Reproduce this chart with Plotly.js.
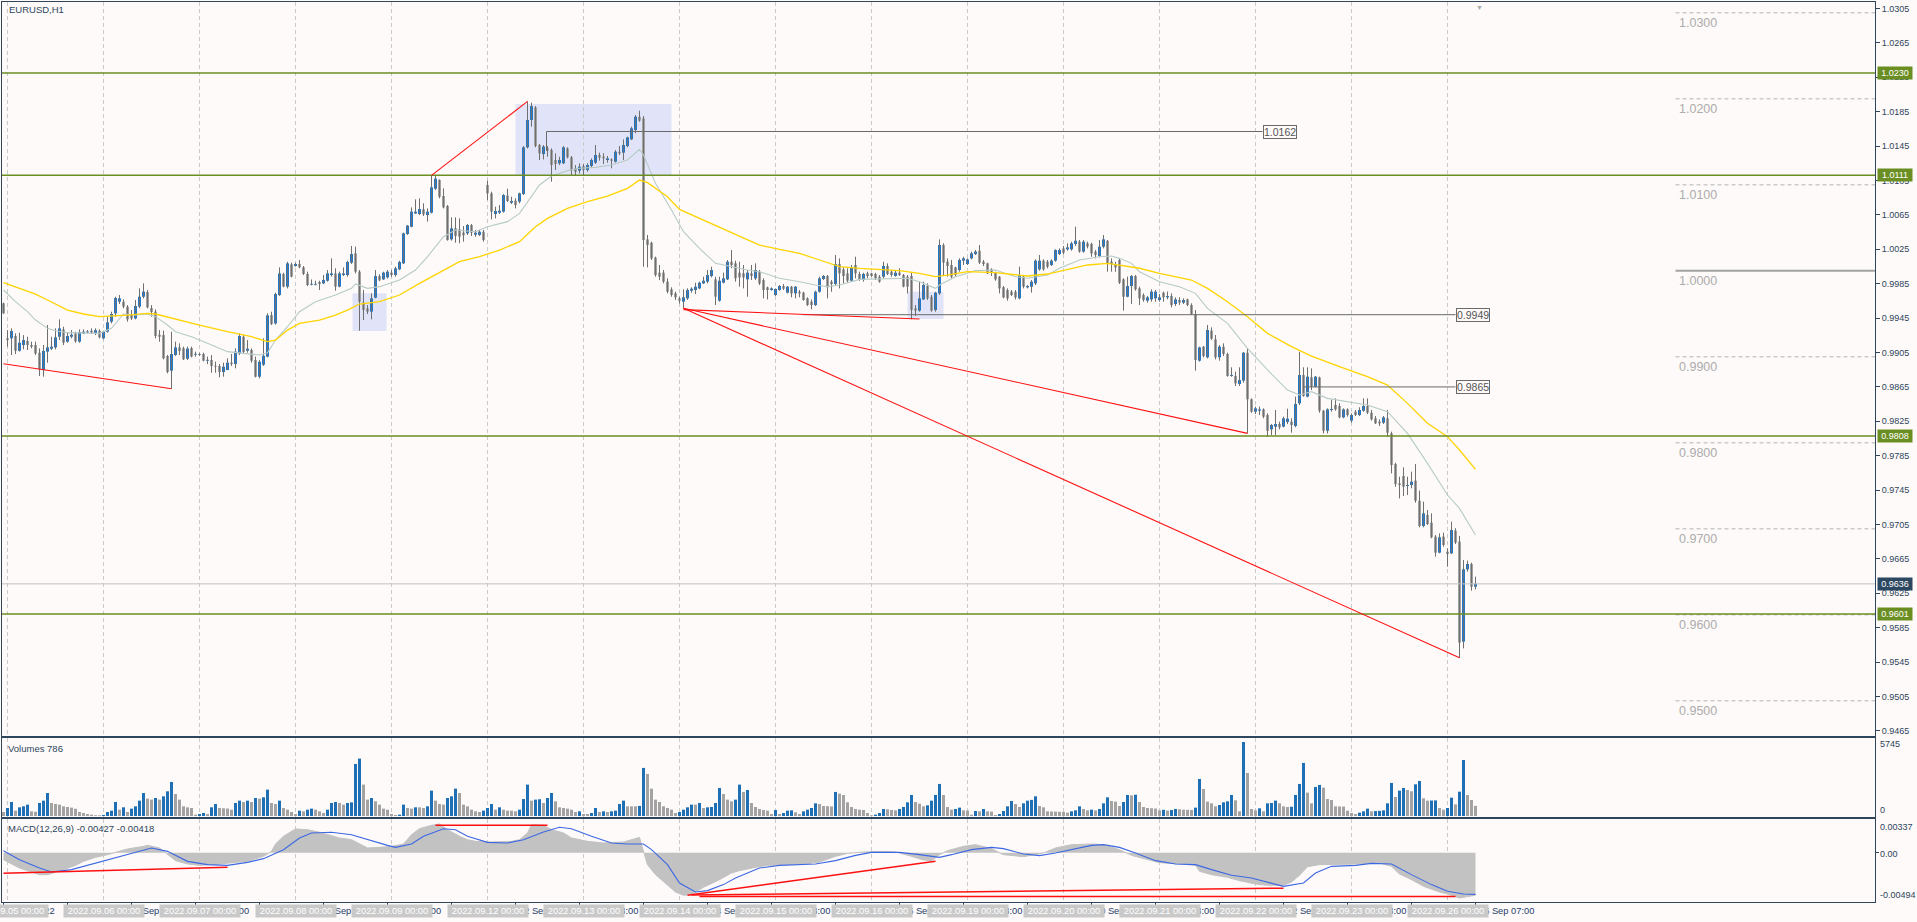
<!DOCTYPE html>
<html><head><meta charset="utf-8">
<script src="https://cdn.plot.ly/plotly-3.0.1.min.js"></script>
<style>html,body{margin:0;padding:0;background:#fdfaf9;}#chart{width:1917px;height:922px;}</style>
</head><body><div id="chart"></div>
<script>
// ---------- DATA (EURUSD H1, bar 0 = 2022.09.02 23:00) ----------
const openP = [
0.99622,0.99215,0.99215,0.99242,0.99071,0.99137,0.99184,0.99137,0.99137,0.99048,
0.98846,0.9906,0.99095,0.9911,0.99234,0.99319,0.99176,0.99234,0.99273,0.99176,
0.99273,0.99285,0.99304,0.99273,0.99304,0.99215,0.99292,0.99409,0.99506,0.99641,
0.99641,0.99583,0.99486,0.99447,0.99583,0.99699,0.99754,0.99567,0.99525,0.99257,
0.99253,0.99009,0.98839,0.99021,0.9911,0.99099,0.98978,0.99102,0.99025,0.99033,
0.99033,0.98955,0.98963,0.98893,0.98893,0.98823,0.98846,0.98932,0.98916,0.9904,
0.99234,0.99071,0.99079,0.98963,0.98769,0.98909,0.99002,0.99486,0.99389,0.99719,
0.99963,0.99816,1.00075,1.00056,1.0008,1.00041,0.99963,0.99839,0.99839,0.9987,
0.99854,0.99885,0.99951,0.9997,0.99816,0.99951,0.99951,1.00095,1.00203,0.9999,
0.9963,0.99564,0.99525,0.99688,0.9994,0.99901,0.99924,0.99979,0.99951,1.00017,
1.00087,1.00428,1.00513,1.00668,1.00661,1.00715,1.00649,1.00676,1.00955,1.01056,
1.0087,1.00754,1.00366,1.00494,1.00482,1.00444,1.00436,1.00533,1.0042,1.00417,
1.00455,1.00998,1.00901,1.00661,1.00676,1.00688,1.00874,1.00792,1.00816,1.00804,
1.00893,1.01436,1.01754,1.01901,1.01463,1.01358,1.01424,1.01405,1.01289,1.0125,
1.0125,1.01424,1.0132,1.01192,1.01165,1.01219,1.01172,1.01219,1.01258,1.01347,
1.01327,1.01289,1.01296,1.01269,1.01385,1.01374,1.01451,1.01529,1.01637,1.01792,
1.01773,1.00366,1.00327,1.00153,0.99979,0.99979,0.99874,0.99785,0.99738,0.9968,
0.99641,0.9968,0.99769,0.99777,0.99796,0.99854,0.99874,0.9994,0.99901,0.99653,
0.99862,0.99901,1.00106,1.00087,0.99979,0.99971,0.99901,0.99971,0.99913,0.9999,
0.99893,0.99808,0.99777,0.99719,0.99777,0.99823,0.99746,0.99816,0.99738,0.99757,
0.99746,0.9968,0.99641,0.99602,0.99757,0.99905,0.9994,0.99874,0.99847,1.00079,
1.00017,0.99971,0.99885,1.00068,0.99963,0.99893,0.99971,0.99971,0.99963,0.99932,
0.99932,1.00056,0.9999,0.9994,0.99978,0.99951,0.99932,0.9994,0.99564,0.99537,
0.99668,0.99823,0.99699,0.99544,0.99738,1.003,1.00106,1.00068,1.0004,1.0001,
1.00118,1.00079,1.00145,1.00195,1.00234,1.00106,1.00087,1.00017,0.99978,0.99932,
0.99808,0.99777,0.99757,0.99757,0.9968,0.99932,0.99808,0.99816,0.99854,1.00017,
1.00118,1.00106,1.00068,1.00118,1.00195,1.00261,1.0025,1.0025,1.00312,1.00339,
1.00223,1.0032,1.00312,1.00223,1.00172,1.00281,1.0035,1.00106,1.00079,1.00126,
0.99901,0.99699,0.99823,0.9994,0.99796,0.99719,0.99653,0.99668,0.9968,0.99661,
0.99746,0.99692,0.99707,0.99614,0.99661,0.9963,0.99668,0.99602,0.99498,0.98955,
0.99118,0.98994,0.99304,0.99203,0.98994,0.99118,0.99033,0.98777,0.98777,0.98684,
0.98723,0.99048,0.98506,0.98362,0.98374,0.98389,0.98323,0.98157,0.98188,0.98219,
0.98188,0.98242,0.98246,0.98196,0.98459,0.98789,0.98537,0.98761,0.98653,0.98761,
0.98374,0.98141,0.98382,0.9844,0.98428,0.98296,0.98389,0.98258,0.98362,0.98323,
0.98374,0.98428,0.9835,0.98285,0.98246,0.98234,0.98285,0.9811,0.97754,0.97529,
0.97614,0.97498,0.9751,0.9756,0.97327,0.97033,0.97161,0.97072,0.96909,0.96723,
0.96909,0.96734,0.96715,0.96979,0.96851,0.95688,0.96529,0.96591,0.96327];
const highP = [
0.9963,0.99311,0.99331,0.99273,0.99281,0.99253,0.99234,0.99176,0.99176,0.99099,
0.99137,0.9937,0.99234,0.99331,0.99436,0.9935,0.99281,0.99311,0.99292,0.99319,
0.99319,0.99311,0.99331,0.99331,0.99319,0.99304,0.99467,0.99525,0.99699,0.99719,
0.99668,0.99602,0.99544,0.99661,0.99796,0.99854,0.99777,0.99602,0.99552,0.99311,
0.99304,0.99021,0.99292,0.99176,0.99157,0.99118,0.99118,0.99118,0.9906,0.99048,
0.99048,0.99002,0.99021,0.98943,0.98916,0.98932,0.98982,0.99033,0.99099,0.99273,
0.99253,0.99195,0.99099,0.99002,0.98963,0.99215,0.99506,0.99525,0.99746,1.0004,
0.99978,1.00106,1.00095,1.00095,1.00126,1.00056,0.9999,0.999,0.99885,0.99885,
0.99951,1.00009,1.00145,1.00029,0.9999,1.0004,1.00118,1.00289,1.00281,1.00009,
0.99777,0.99602,0.99738,1.00009,0.9996,0.9999,1.0001,1.0001,1.00048,1.00118,
1.00444,1.00533,1.00738,1.00831,1.00843,1.00785,1.00726,1.01103,1.01114,1.01064,
1.00959,1.00765,1.00622,1.00622,1.0061,1.00521,1.00545,1.00545,1.00475,1.00475,
1.00475,1.01048,1.0092,1.00746,1.00765,1.00893,1.00955,1.00862,1.00843,1.00909,
1.01451,1.01967,1.01955,1.01916,1.01475,1.01463,1.01451,1.01424,1.01366,1.01327,
1.01451,1.01436,1.01335,1.0123,1.0125,1.01242,1.0125,1.01308,1.01463,1.01374,
1.01366,1.01335,1.01308,1.01405,1.01451,1.01529,1.0156,1.01676,1.01812,1.01862,
1.018,1.00417,1.00339,1.00165,1.00068,1.0001,0.99913,0.99808,0.99757,0.99699,
0.99785,0.99796,0.99808,0.99862,0.99874,0.99932,1.00009,1.00048,0.9993,0.99932,
0.99979,1.00126,1.00242,1.00118,1.00106,1.00068,1.0001,1.00068,1.00087,1.0001,
0.99913,0.99816,0.99808,0.99796,0.99835,0.99847,0.99823,0.99823,0.99823,0.99777,
0.99757,0.99692,0.99668,0.99769,0.99932,0.99951,0.99951,0.99893,1.00184,1.00145,
1.0004,1.00029,1.00068,1.00164,0.9999,0.99978,0.9999,0.99978,0.99978,0.99951,
1.00106,1.00087,1.0001,1.00002,1.00029,0.99963,0.99951,0.99978,0.99602,0.99874,
0.99874,0.99854,0.99719,0.99757,1.00366,1.0032,1.00145,1.00126,1.00048,1.00145,
1.00164,1.00145,1.00223,1.00242,1.003,1.00126,1.00095,1.00029,0.9999,0.9994,
0.99823,0.99796,0.99777,0.99777,1.00048,0.99951,0.99835,0.99893,1.00133,1.00184,
1.00133,1.00126,1.00133,1.0025,1.00261,1.00289,1.0032,1.00339,1.00513,1.00358,
1.00358,1.00339,1.00327,1.00242,1.00358,1.00416,1.00358,1.00145,1.00106,1.00145,
0.99913,0.99932,0.99951,0.99951,0.99816,0.99738,0.99707,0.99785,0.99777,0.9973,
0.99758,0.99758,0.99738,0.99692,0.99692,0.9968,0.99676,0.99622,0.99544,0.99118,
0.99126,0.9937,0.99343,0.99254,0.99137,0.99157,0.99048,0.98878,0.98827,0.98878,
0.99056,0.99099,0.98517,0.98421,0.98421,0.98401,0.98343,0.98219,0.98382,0.98246,
0.98304,0.98397,0.98285,0.98537,0.9906,0.98878,0.98878,0.98866,0.98777,0.98769,
0.98382,0.98401,0.98498,0.98517,0.98459,0.98401,0.98401,0.98343,0.98382,0.98413,
0.98517,0.98517,0.98382,0.98312,0.98273,0.98312,0.98382,0.9813,0.97769,0.97606,
0.97715,0.97606,0.97665,0.97754,0.97444,0.97316,0.97219,0.9718,0.96928,0.96947,
0.96955,0.96773,0.97083,0.97006,0.96917,0.96637,0.96629,0.96606,0.96444];
const lowP = [
0.9950,0.99118,0.99021,0.99033,0.9906,0.99087,0.99079,0.99099,0.99021,0.98777,
0.98769,0.98932,0.99079,0.99087,0.99195,0.99137,0.99164,0.99215,0.99164,0.99164,
0.99265,0.99273,0.99265,0.99253,0.99215,0.99203,0.99281,0.99389,0.99467,0.99614,
0.99564,0.99409,0.99428,0.99436,0.99564,0.9968,0.99564,0.99467,0.99215,0.99176,
0.98971,0.98808,0.98629,0.9901,0.99021,0.98963,0.98963,0.98994,0.99002,0.99009,
0.98947,0.98916,0.98815,0.98815,0.98761,0.98769,0.98846,0.98893,0.98866,0.99021,
0.99033,0.99048,0.98932,0.98761,0.98749,0.98893,0.98994,0.9937,0.99374,0.99707,
0.99808,0.99796,0.99924,1.00048,1.0003,0.99951,0.99823,0.99831,0.99831,0.99777,
0.99846,0.99874,0.99932,0.99769,0.99808,0.9994,0.99932,1.0008,0.9997,0.99304,
0.99428,0.99498,0.99436,0.9968,0.9988,0.99893,0.9991,0.9993,0.99932,1.00009,
1.00079,1.00417,1.00506,1.00661,1.00649,1.00637,1.00572,1.00668,1.0094,1.00843,
1.00726,1.00351,1.00351,1.00327,1.0032,1.00339,1.00417,1.00405,1.00397,1.00405,
1.00339,1.00823,1.00599,1.0061,1.00661,1.00676,1.008,1.00777,1.00726,1.00785,
1.00882,1.01424,1.01676,1.01436,1.01289,1.01296,1.01327,1.01037,1.01172,1.0123,
1.01242,1.01308,1.01103,1.01114,1.01133,1.01114,1.01153,1.01203,1.01242,1.01281,
1.01242,1.01258,1.01192,1.01258,1.01347,1.01289,1.01436,1.01521,1.01599,1.01734,
1.00048,1.0004,1.00126,0.99932,0.99893,0.99854,0.99738,0.99699,0.99661,0.9962,
0.99564,0.99661,0.99746,0.9973,0.99785,0.99847,0.99854,0.99924,0.99602,0.99641,
0.99854,0.99893,1.00029,0.99874,0.99816,0.99796,0.99699,0.99893,0.99893,0.99835,
0.9968,0.99668,0.99769,0.99707,0.99769,0.99777,0.99738,0.99692,0.9968,0.99692,
0.99653,0.99591,0.99552,0.99591,0.99746,0.99893,0.9968,0.99757,0.99835,0.99796,
0.99854,0.99862,0.99874,0.99913,0.99885,0.99874,0.99913,0.99932,0.99893,0.99862,
0.99913,0.99951,0.99932,0.99932,0.9994,0.99808,0.99738,0.99436,0.99475,0.99525,
0.99661,0.99661,0.99525,0.99525,0.99719,0.99951,0.99932,0.99913,0.99932,0.9999,
1.00068,1.00068,1.00133,1.00184,1.00079,1.00056,0.99963,0.9994,0.99885,0.99738,
0.9968,0.99653,0.99707,0.99668,0.99668,0.99796,0.99796,0.99746,0.99835,1.00002,
1.00002,1.00029,1.00056,1.00106,1.00184,1.00195,1.00234,1.00234,1.00289,1.00211,
1.00211,1.00261,1.00164,1.00145,1.00157,1.00261,0.9999,0.9999,0.9999,0.99847,
0.99537,0.99692,0.99614,0.99769,0.99602,0.99641,0.9963,0.99641,0.99641,0.99641,
0.99641,0.99668,0.99575,0.9959,0.99602,0.99614,0.9959,0.99486,0.98839,0.98944,
0.98994,0.98982,0.99196,0.9897,0.98955,0.99009,0.98769,0.98769,0.98661,0.98661,
0.98699,0.9811,0.9835,0.98335,0.98323,0.98285,0.98072,0.98091,0.98091,0.98157,
0.9818,0.98219,0.98118,0.9818,0.9844,0.98537,0.98529,0.98614,0.98645,0.9835,
0.9811,0.9811,0.98362,0.98374,0.98285,0.98285,0.98304,0.98234,0.98312,0.98312,
0.98362,0.98335,0.98258,0.98219,0.98196,0.98219,0.98072,0.97645,0.9749,0.97354,
0.97382,0.97393,0.97471,0.97304,0.97017,0.97017,0.97044,0.9689,0.96676,0.96715,
0.96792,0.9656,0.96707,0.96823,0.9550,0.9561,0.96502,0.96281,0.96296];
const closeP = [
0.99506,0.99195,0.993,0.99071,0.99164,0.99195,0.99137,0.99118,0.9904,0.98854,
0.99068,0.9911,0.99118,0.99226,0.99331,0.99164,0.99242,0.99257,0.9918,0.99288,
0.99292,0.99292,0.99281,0.99311,0.99226,0.99292,0.99401,0.99498,0.99684,0.9968,
0.99583,0.99436,0.99447,0.99591,0.99699,0.99758,0.99575,0.99521,0.99242,0.99234,
0.98982,0.98823,0.99033,0.9911,0.99068,0.98971,0.99095,0.99002,0.99033,0.99021,
0.98955,0.98963,0.98893,0.98885,0.98823,0.98885,0.98932,0.98916,0.9906,0.99242,
0.99056,0.99095,0.98955,0.98769,0.98943,0.99013,0.99482,0.99381,0.9973,0.9997,
0.99816,1.00087,0.99932,1.0008,1.00041,0.99963,0.99835,0.99846,0.99846,0.99846,
0.99893,0.9997,0.9997,0.99816,0.9997,0.9997,1.00103,1.00195,0.9999,0.99641,
0.99544,0.99525,0.9968,0.99939,0.9989,0.99979,0.9999,0.99951,1.00029,1.00103,
1.00436,1.00525,1.00688,1.00688,1.00719,1.00657,1.00688,1.00971,1.01072,1.00862,
1.00738,1.00358,1.00494,1.00405,1.00397,1.00413,1.00533,1.00444,1.00444,1.00455,
1.00358,1.00901,1.00688,1.00695,1.00699,1.00882,1.00812,1.00812,1.00765,1.00901,
1.01436,1.01754,1.01916,1.01451,1.01366,1.01444,1.01397,1.0123,1.01242,1.01289,
1.01436,1.0132,1.01165,1.01153,1.01211,1.01172,1.0123,1.01289,1.01347,1.01316,
1.01308,1.01308,1.01281,1.01385,1.01366,1.01463,1.01552,1.01657,1.01792,1.01746,
1.00358,1.003,1.00145,0.99951,0.99932,0.99874,0.99757,0.99719,0.99692,0.99653,
0.99692,0.99777,0.99792,0.99816,0.99862,0.99885,0.99951,1.00009,0.99699,0.99885,
0.99913,1.00106,1.00068,0.99913,0.99924,0.99924,0.99979,0.9994,1.00009,0.99854,
0.99777,0.99777,0.99796,0.99789,0.99823,0.99792,0.99816,0.99738,0.99816,0.99738,
0.99661,0.99602,0.99602,0.99757,0.99913,0.9994,0.99808,0.99847,1.00079,0.99971,
0.9994,0.99885,1.0004,0.99971,0.99901,0.99963,0.9994,0.9994,0.99913,0.99874,
1.00056,0.99963,0.99951,0.99978,0.99951,0.99816,0.99816,0.99544,0.99537,0.9968,
0.99835,0.9968,0.99537,0.99746,1.003,1.00095,1.00056,0.99932,0.99951,1.00126,
1.00145,1.00133,1.00203,1.00223,1.00095,1.00079,0.99971,0.99978,0.99901,0.99796,
0.99692,0.9968,0.99719,0.99692,0.99951,0.99816,0.99823,0.99874,1.00118,1.00118,
1.00017,1.00048,1.00118,1.00242,1.00242,1.00211,1.00273,1.0032,1.0035,1.00223,
1.00339,1.00281,1.00203,1.00184,1.00281,1.00366,1.00087,1.00079,1.0004,0.99862,
0.99699,0.99823,0.9994,0.99785,0.9968,0.99661,0.99692,0.99758,0.99758,0.99692,
0.99692,0.99707,0.99602,0.99668,0.9963,0.99661,0.99602,0.99498,0.98963,0.9911,
0.99009,0.99312,0.99211,0.98994,0.99118,0.99033,0.98777,0.98789,0.98692,0.9873,
0.99048,0.98506,0.98362,0.98401,0.98389,0.98304,0.98141,0.98207,0.98219,0.9818,
0.98285,0.98281,0.98207,0.98451,0.98789,0.98544,0.98769,0.98653,0.98769,0.98374,
0.98141,0.98389,0.98393,0.98389,0.98296,0.98389,0.98323,0.98323,0.98323,0.98382,
0.98428,0.9835,0.98273,0.98227,0.98227,0.98296,0.98118,0.97742,0.97521,0.9751,
0.9749,0.9751,0.97548,0.97327,0.97033,0.9718,0.97056,0.96901,0.96723,0.96901,
0.96812,0.96707,0.96986,0.9684,0.95676,0.96529,0.96591,0.96327,0.96362];
const volumes = [
311,622,1088,414,673,751,881,363,330,1010,1191,1787,1010,932,881,751,700,650,560,311,233,155,104,60,52,
80,311,414,1088,492,673,311,570,751,1191,1787,1347,1269,1399,1269,1528,1917,2642,1709,1269,751,673,622,104,155,
233,155,673,932,622,600,580,492,1010,1191,1088,1191,1088,1399,1347,1450,2046,1010,932,1191,622,492,311,155,414,
363,492,570,492,363,233,492,1010,1088,1010,881,1010,1060,4040,4455,2435,1269,1399,1140,881,570,492,155,80,104,
881,622,570,673,673,622,751,1968,1191,932,881,1399,1528,2124,1787,881,751,492,363,311,414,622,932,492,673,
492,414,414,363,492,1321,2435,1191,1269,1300,1010,1399,1787,1140,673,622,570,492,311,363,155,155,233,622,311,
363,311,363,414,932,1191,751,751,751,780,3730,3263,2124,1269,1088,751,622,492,233,311,492,673,881,881,1010,
622,673,700,1010,2176,1709,1269,1140,1269,2435,
1865,2020,1010,700,544,466,414,155,466,155,233,414,440,285,155,363,492,622,984,932,777,760,740,1865,1735,
1632,1062,700,544,492,470,233,52,104,233,544,520,466,440,544,700,1062,1632,1088,958,751,829,1191,1632,2486,
1632,700,492,544,648,440,420,104,388,363,544,363,340,78,155,388,751,1165,932,700,984,1190,1250,1528,777,
673,363,350,340,330,320,259,363,440,751,544,440,492,440,544,984,1450,1165,1114,777,1088,1632,1600,1650,1088,
700,622,600,580,440,480,420,460,544,520,492,480,470,648,2875,2098,1114,984,751,855,1062,1140,1632,1218,363,
5745,3340,544,440,596,363,984,1010,1191,984,751,700,720,1632,2486,4118,1813,984,2254,2409,2200,1321,1243,751,740,
730,414,233,155,259,363,570,363,380,400,440,984,2564,1476,1968,2176,2020,1917,2460,2720,1373,1191,1200,1210,622,
492,622,1422,900,1888,4346,1630,1242,786];
// MACD main (histogram) read at these bars
const macdBar = [0,4,9,11,15,18,20,23,26,29,31,35,36,39,41,43,46,49,52,56,61,65,67,68,70,73,76,79,82,84,87,89,91,94,97,100,102,104,107,109,111,114,116,118,122,127,129,131,132,135,137,140,142,146,150,155,157,159,160,161,163,166,168,170,172,175,179,182,184,188,191,196,201,204,208,211,215,220,223,227,230,232,234,236,240,243,247,250,255,260,263,267,272,275,279,282,286,289,294,298,299,302,306,309,313,316,320,322,324,326,329,334,339,344,347,349,352,355,359,361,364,366,368];
const macdMain = [-0.0007,-0.00154,-0.0022,-0.0022,-0.0017,-0.00127,-0.00087,-0.00047,-0.0002,0.00013,0.00037,0.00063,0.00073,0.00047,-0.0002,-0.0008,-0.00113,-0.00127,-0.0012,-0.00107,-0.00087,-0.00037,0.00013,0.00087,0.00164,0.00237,0.0023,0.00204,0.00174,0.00147,0.0013,0.00087,0.00047,0.00053,0.00063,0.00087,0.0018,0.0024,0.00274,0.00287,0.0023,0.00164,0.0013,0.00113,0.00107,0.00113,0.0013,0.00197,0.0028,0.00274,0.0023,0.00197,0.00147,0.00113,0.00097,0.00107,0.0013,0.00153,0.00013,-0.0012,-0.0022,-0.0032,-0.00394,-0.00427,-0.0042,-0.00347,-0.0027,-0.00204,-0.0018,-0.00147,-0.00127,-0.0012,-0.0011,-0.00093,-0.00037,-0.00007,0.00007,0.00013,0.00007,-0.00037,-0.00073,-0.0008,-0.0002,0.0002,0.00063,0.0008,0.0004,-0.0002,-0.0004,-0.00003,0.00047,0.0008,0.00087,0.0008,0.0003,-0.00027,-0.0007,-0.001,-0.00113,-0.00127,-0.00187,-0.0022,-0.00247,-0.0028,-0.00314,-0.00327,-0.00327,-0.00294,-0.00227,-0.0014,-0.0012,-0.0012,-0.00113,-0.00103,-0.00137,-0.00214,-0.0027,-0.00337,-0.00394,-0.00414,-0.00454,-0.0044,-0.00427];
const signalBar = [0,4,9,12,17,23,29,35,37,41,46,51,56,61,65,70,74,77,82,87,91,96,98,102,105,110,113,116,121,126,130,135,139,142,147,152,156,160,162,166,169,173,176,180,183,189,194,203,208,213,217,224,229,234,237,242,247,250,255,259,263,267,272,275,279,283,288,293,298,302,307,312,316,320,325,328,332,338,342,347,352,357,361,365,368];
const macdSignal = [0.0002,-0.0007,-0.00154,-0.00194,-0.0017,-0.00103,-0.00037,0.0003,0.00047,0.00013,-0.00087,-0.0012,-0.00127,-0.00097,-0.0006,0.0003,0.00147,0.00197,0.00204,0.0018,0.0013,0.00073,0.00053,0.00087,0.00164,0.0024,0.0023,0.00164,0.00103,0.00097,0.0013,0.00207,0.00254,0.0024,0.00164,0.00097,0.00087,0.00087,0.0003,-0.0012,-0.00304,-0.00394,-0.0038,-0.0032,-0.00254,-0.00154,-0.00127,-0.00113,-0.0008,-0.00027,0.00003,0.00003,-0.0002,-0.00047,-0.0002,0.0003,0.00053,0.0004,-0.00013,-0.0003,-0.00003,0.0003,0.00073,0.0008,0.00053,-0.00003,-0.0008,-0.00113,-0.0012,-0.0017,-0.00227,-0.00254,-0.00294,-0.00337,-0.00304,-0.00204,-0.00137,-0.00127,-0.00107,-0.00113,-0.0022,-0.0032,-0.00387,-0.00414,-0.00418];
// moving averages read at these bars
const maFastBar = [0,3,6,8,11,13,16,21,24,27,30,33,36,38,41,43,47,51,56,60,64,66,68,71,74,78,83,87,88,91,94,99,103,106,110,113,118,121,126,129,132,134,137,141,144,148,152,156,159,160,163,167,170,174,178,182,186,189,194,199,203,206,209,214,221,226,229,233,234,238,243,248,253,256,261,264,269,274,277,279,282,284,289,294,298,301,306,311,316,321,324,327,331,336,341,346,351,356,361,364,368];
const maFast = [0.99777,0.99641,0.99525,0.99428,0.99331,0.99304,0.99281,0.99281,0.99273,0.99331,0.99498,0.99486,0.99498,0.99467,0.9937,0.99292,0.99234,0.99157,0.9906,0.9904,0.99021,0.99048,0.99195,0.9935,0.99525,0.99641,0.99719,0.99796,0.99847,0.99796,0.99816,0.99893,1.00009,1.00165,1.00397,1.00475,1.00455,1.00513,1.00572,1.00668,1.0087,1.00998,1.01103,1.01165,1.01192,1.01203,1.0123,1.01289,1.01413,1.01347,1.01017,1.00707,1.00455,1.00261,1.00087,1.00048,1.00009,0.9999,0.99913,0.99874,0.99835,0.99816,0.99835,0.99901,0.99913,0.99913,0.99874,0.99796,0.99835,0.99932,1.00002,1.0001,0.99932,0.99913,0.99951,1.00029,1.00126,1.00164,1.00172,1.00145,1.00087,0.9999,0.99874,0.99816,0.99738,0.99564,0.99389,0.99099,0.98847,0.98614,0.98556,0.98595,0.98517,0.98479,0.9844,0.98362,0.9811,0.97761,0.97393,0.97238,0.96928];
const maSlowBar = [0,4,8,11,16,20,24,31,34,36,38,43,49,56,62,66,68,71,74,79,83,86,89,94,99,104,110,114,119,124,129,133,136,141,146,151,156,159,161,166,169,174,179,184,189,194,199,204,209,214,219,224,229,233,236,241,248,253,256,261,266,271,276,281,284,289,297,301,306,311,316,322,327,334,341,346,351,356,361,364,368];
const maSlow = [0.99862,0.99796,0.9973,0.99661,0.99544,0.99498,0.99467,0.99486,0.99498,0.99506,0.99498,0.99436,0.9937,0.99292,0.99234,0.99176,0.99195,0.99311,0.99389,0.99428,0.99486,0.99544,0.99614,0.99641,0.99719,0.99854,1.0001,1.00106,1.00165,1.00242,1.00339,1.00513,1.0061,1.00726,1.00804,1.0087,1.00959,1.01056,1.01025,1.00862,1.00715,1.0061,1.00506,1.00397,1.003,1.0025,1.00203,1.00126,1.00048,1.00029,1.00017,1.00002,0.99971,0.99932,0.99951,0.9999,0.99978,0.99951,0.9994,0.99963,1.00017,1.00068,1.00087,1.00056,1.0003,0.99971,0.99893,0.99796,0.99641,0.99467,0.99273,0.99118,0.99009,0.98886,0.98769,0.98672,0.98459,0.98227,0.98072,0.97917,0.97692];
// horizontal levels, round levels, price-axis ticks
const keyLevels = [1.0230, 1.0111, 0.9808, 0.9601];
const roundLevels = [1.0300, 1.0200, 1.0100, 0.9900, 0.9800, 0.9700, 0.9600, 0.9500];
const parityLevel = 1.0000;
const lastPrice = 0.9636;
const priceTicks = [1.0305,1.0265,1.0225,1.0185,1.0145,1.0105,1.0065,1.0025,0.9985,0.9945,0.9905,0.9865,0.9825,0.9785,0.9745,0.9705,0.9665,0.9625,0.9585,0.9545,0.9505,0.9465];
// labelled horizontal lines [startBar, endBar, price]
const markedLines = [[135.75, 314.75, 1.0162], [200, 363, 0.9949], [325, 363, 0.9865]];
// red trend lines [bar0, price0, bar1, price1]
const priceTrends = [[0,0.9892,42,0.98629],[107,1.0111,131,1.0197],[170,0.99564,311,0.9811],[170,0.99564,364,0.9550],[170,0.99549,229,0.9944]];
const macdTrends = [[0,-0.00207,56,-0.00147],[108,0.00274,136,0.00274],[171,-0.00427,233,-0.00087],[172,-0.00424,320,-0.00356],[174,-0.0044,363,-0.0044]];
// highlighted zones [bar0, bar1, priceLow, priceHigh]
const zones = [[87.25,95.75,0.9930,0.9974],[128,167,1.01114,1.0194],[226,235,0.9944,0.99757]];
// time axis
const dayBars = [1,25,49,73,97,121,145,169,193,217,241,265,289,313,337,361];
const dayLabels = ['2022.09.05 00:00','2022.09.06 00:00','2022.09.07 00:00','2022.09.08 00:00','2022.09.09 00:00','2022.09.12 00:00','2022.09.13 00:00','2022.09.14 00:00','2022.09.15 00:00','2022.09.16 00:00','2022.09.19 00:00','2022.09.20 00:00','2022.09.21 00:00','2022.09.22 00:00','2022.09.23 00:00','2022.09.26 00:00'];
const timeTickBars = [0,16,32,48,64,80,96,112,128,144,160,176,192,208,224,240,256,272,288,304,320,336,352,368];
const timeTickLabels = ['2 Sep 2022','5 Sep 15:00','6 Sep 07:00','6 Sep 23:00','7 Sep 15:00','8 Sep 07:00','8 Sep 23:00','9 Sep 15:00','12 Sep 07:00','12 Sep 23:00','13 Sep 15:00','14 Sep 07:00','14 Sep 23:00','15 Sep 15:00','16 Sep 07:00','16 Sep 23:00','19 Sep 15:00','20 Sep 07:00','20 Sep 23:00','21 Sep 15:00','22 Sep 07:00','22 Sep 23:00','23 Sep 15:00','26 Sep 07:00'];

// ---------- STYLE ----------
const BG = '#fdfaf9', BORDER = '#2f455c', AXC = '#2f455c', TXC = '#1f3d6e', FONT = 'Liberation Sans, Arial, sans-serif';
const UP = '#2178c8', DOWN = '#a3a3a3', WICK = '#6f6f6f', VUP = '#1f6fb4', VDOWN = '#a3a3a3';
const OLIVE = '#6b8e23';
const XR = [-0.375, 467.875];

const bars = openP.map((_, i) => i);
const wx = [], wy = [];
bars.forEach(i => { wx.push(i, i, null); wy.push(lowP[i], highP[i], null); });
const bodyBase = bars.map(i => Math.min(openP[i], closeP[i]));
const bodyH = bars.map(i => Math.max(Math.abs(closeP[i] - openP[i]), 0.0001));
const bodyCol = bars.map(i => closeP[i] >= openP[i] ? UP : DOWN);
const volCol = volumes.map((v, i) => (i > 0 && v > volumes[i - 1]) ? VUP : VDOWN);

const traces = [
  {type:'scatter', mode:'lines', x:wx, y:wy, line:{color:WICK, width:1}, xaxis:'x', yaxis:'y', hoverinfo:'skip'},
  {type:'bar', x:bars, y:bodyH, base:bodyBase, width:0.75, marker:{color:bodyCol, line:{width:0}}, xaxis:'x', yaxis:'y', hoverinfo:'skip'},
  {type:'scatter', mode:'lines', x:maFastBar, y:maFast, line:{color:'#b6cbc7', width:1.1}, xaxis:'x', yaxis:'y', hoverinfo:'skip'},
  {type:'scatter', mode:'lines', x:maSlowBar, y:maSlow, line:{color:'#ffd400', width:1.3}, xaxis:'x', yaxis:'y', hoverinfo:'skip'},
  {type:'bar', x:bars, y:volumes, width:0.75, marker:{color:volCol, line:{width:0}}, xaxis:'x2', yaxis:'y2', hoverinfo:'skip'},
  {type:'scatter', mode:'lines', x:macdBar, y:macdMain, fill:'tozeroy', fillcolor:'#c2c2c2', line:{color:'#c2c2c2', width:1}, xaxis:'x3', yaxis:'y3', hoverinfo:'skip'},
  {type:'scatter', mode:'lines', x:signalBar, y:macdSignal, line:{color:'#3d68e3', width:1.1}, xaxis:'x3', yaxis:'y3', hoverinfo:'skip'}
];

const shapes = [];
zones.forEach(z => shapes.push({type:'rect', xref:'x', yref:'y', x0:z[0], x1:z[1], y0:z[2], y1:z[3], fillcolor:'#e1e4f8', line:{width:0}, layer:'below'}));
roundLevels.forEach(p => shapes.push({type:'line', xref:'x', yref:'y', x0:418, x1:XR[1], y0:p, y1:p, line:{color:'#b4b4b4', width:1, dash:'4px,3px'}}));
shapes.push({type:'line', xref:'x', yref:'y', x0:418, x1:XR[1], y0:parityLevel, y1:parityLevel, line:{color:'#a3a3a3', width:2}});
shapes.push({type:'line', xref:'paper', yref:'y', x0:0, x1:1, y0:lastPrice, y1:lastPrice, line:{color:'#c3c3c3', width:1}});
keyLevels.forEach(p => shapes.push({type:'line', xref:'paper', yref:'y', x0:0, x1:1, y0:p, y1:p, line:{color:OLIVE, width:1.5}}));
markedLines.forEach(m => shapes.push({type:'line', xref:'x', yref:'y', x0:m[0], x1:m[1], y0:m[2], y1:m[2], line:{color:'#6a6a6a', width:1}}));
shapes.push({type:'line', xref:'x', yref:'y', x0:markedLines[0][0], x1:markedLines[0][0], y0:markedLines[0][2], y1:closeP[136], line:{color:'#6a6a6a', width:1}});
priceTrends.forEach(t => shapes.push({type:'line', xref:'x', yref:'y', x0:t[0], y0:t[1], x1:t[2], y1:t[3], line:{color:'#ff1010', width:1.1}}));
macdTrends.forEach(t => shapes.push({type:'line', xref:'x3', yref:'y3', x0:t[0], y0:t[1], x1:t[2], y1:t[3], line:{color:'#ff1010', width:1.5}}));

const PX = px => (px - 2) / 1873;     // horizontal pixel -> paper
const PY = py => (902 - py) / 900;    // vertical pixel -> paper
const ann = [];
roundLevels.concat([parityLevel]).forEach(p => ann.push({xref:'x', yref:'y', x:418.3, y:p, xanchor:'left', yanchor:'top', yshift:-1, text:p.toFixed(4), showarrow:false, font:{size:12.5, color:'#acacac', family:FONT}}));
keyLevels.forEach(p => ann.push({xref:'paper', yref:'y', x:PX(1877), y:p, xanchor:'left', yanchor:'middle', text:p.toFixed(4), showarrow:false, bgcolor:OLIVE, borderpad:1, width:32, height:10, font:{size:9, color:'#ffffff', family:FONT}}));
ann.push({xref:'paper', yref:'y', x:PX(1877), y:lastPrice, xanchor:'left', yanchor:'middle', text:lastPrice.toFixed(4), showarrow:false, bgcolor:'#2c4760', borderpad:1, width:32, height:10, font:{size:9, color:'#ffffff', family:FONT}});
markedLines.forEach(m => ann.push({xref:'x', yref:'y', x:m[1], y:m[2], xanchor:'left', yanchor:'middle', text:m[2].toFixed(4), showarrow:false, bgcolor:BG, bordercolor:'#6a6a6a', borderwidth:1, borderpad:0, font:{size:10.5, color:'#555555', family:FONT}}));
ann.push({xref:'paper', yref:'paper', x:PX(7), y:PY(10), xanchor:'left', yanchor:'middle', text:'EURUSD,H1', showarrow:false, font:{size:9.5, color:AXC, family:FONT}});
ann.push({xref:'paper', yref:'paper', x:PX(6), y:PY(748), xanchor:'left', yanchor:'middle', text:'Volumes ' + volumes[volumes.length - 1], showarrow:false, font:{size:9.5, color:AXC, family:FONT}});
ann.push({xref:'paper', yref:'paper', x:PX(6), y:PY(828), xanchor:'left', yanchor:'middle', text:'MACD(12,26,9) ' + macdMain[macdMain.length - 1].toFixed(5) + ' ' + macdSignal[macdSignal.length - 1].toFixed(5), showarrow:false, font:{size:9.5, color:AXC, family:FONT}});
[['5745',744],['0',810],['0.00337',827],['0.00',854],['-0.00494',895]].forEach(a => ann.push({xref:'paper', yref:'paper', x:PX(1878), y:PY(a[1]), xanchor:'left', yanchor:'middle', text:a[0], showarrow:false, font:{size:9, color:AXC, family:FONT}}));
timeTickBars.forEach((b, k) => ann.push({xref:'x3', yref:'paper', x:b, y:PY(911), xanchor:'left', yanchor:'middle', xshift:1, text:timeTickLabels[k], showarrow:false, font:{size:9.3, color:TXC, family:FONT}}));
dayBars.forEach((b, k) => ann.push({xref:'x3', yref:'paper', x:b, y:PY(911), xanchor:'center', yanchor:'middle', text:dayLabels[k], showarrow:false, bgcolor:'#c9c9c9', borderpad:1, width:78, height:10, font:{size:9.3, color:'#ffffff', family:FONT}}));
ann.push({xref:'x', yref:'paper', x:368.9, y:1, xanchor:'center', yanchor:'top', text:'▼', showarrow:false, font:{size:7, color:'#a8a8a8', family:FONT}});

const axBase = {showline:true, mirror:true, linecolor:BORDER, linewidth:1, zeroline:false, showgrid:false};
const xBase = Object.assign({}, axBase, {range:XR, showticklabels:false, tickmode:'array', tickvals:dayBars, ticks:'', showgrid:true, gridcolor:'#cacaca', griddash:'4px,3px', gridwidth:1});
const layout = {
  width:1917, height:922, margin:{l:2, r:42, t:2, b:20, pad:0},
  paper_bgcolor:BG, plot_bgcolor:BG, showlegend:false, barmode:'overlay',
  font:{family:FONT, size:9, color:AXC},
  xaxis: Object.assign({}, xBase, {anchor:'y', domain:[0,1]}),
  xaxis2: Object.assign({}, xBase, {anchor:'y2', domain:[0,1], matches:'x'}),
  xaxis3: Object.assign({}, xBase, {anchor:'y3', domain:[0,1], matches:'x', minor:{tickmode:'array', tickvals:timeTickBars, ticks:'outside', ticklen:4, tickcolor:BORDER, showgrid:false}}),
  yaxis: Object.assign({}, axBase, {anchor:'x', domain:[PY(736),1], range:[0.94591,1.03126], side:'right', tickmode:'array', tickvals:priceTicks, ticktext:priceTicks.map(v => v.toFixed(4)), ticks:'outside', ticklen:4, tickcolor:BORDER, tickfont:{size:9, color:AXC, family:FONT}}),
  yaxis2: Object.assign({}, axBase, {anchor:'x2', domain:[PY(817),PY(738)], range:[-78,6053], side:'right', showticklabels:false, ticks:''}),
  yaxis3: Object.assign({}, axBase, {anchor:'x3', domain:[0,PY(819)], range:[-0.00494,0.00337], side:'right', showticklabels:false, tickmode:'array', tickvals:[0], ticks:'outside', ticklen:3, tickcolor:BORDER}),
  shapes: shapes, annotations: ann
};
Plotly.newPlot('chart', traces, layout, {displayModeBar:false, staticPlot:true});
</script>
</body></html>
